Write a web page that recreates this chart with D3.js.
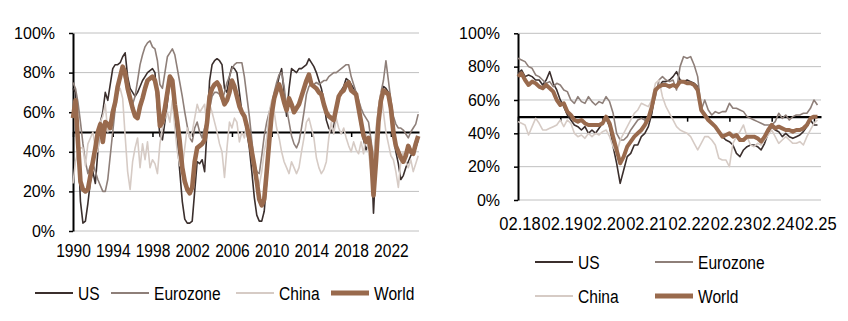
<!DOCTYPE html>
<html>
<head>
<meta charset="utf-8">
<script src="https://cdn.jsdelivr.net/npm/d3@7"></script>
<style>
  html, body { margin: 0; padding: 0; background: #fff; }
  svg { display: block; font-family: "Liberation Sans", Arial, sans-serif; }
</style>
</head>
<body>
<svg id="chart" width="848" height="321"></svg>
<script>
// ---- Data -------------------------------------------------------------
// Share of PMI sub-indices above 50, in percent.

const seriesNames = ["US", "Eurozone", "China", "World"];

// Long history: quarterly observations starting 1990 Q1 (one row per year)
const longStartYear = 1990;
const longUS = [
  72,70,45,15,  4,5,14,25,  30,24,40,55,  60,70,66,74,  82,84,84,85,
  88,90,78,72,  70,68,70,73,  76,78,80,81,  82,80,62,48,  46,55,65,76,
  74,60,45,30,  15,6,4,4,   5,20,35,34,  36,30,52,76,  84,86,87,86,
  84,72,70,78,  83,82,80,70,  60,57,50,42,  30,17,8,5,   5,10,25,45,
  58,66,72,78,  82,70,58,72,  82,81,80,82,  82,83,84,87,  85,83,80,76,
  72,66,56,52,  50,53,60,68,  71,73,77,76,  74,72,70,62,  52,46,41,44,
  42,9,35,55,   68,73,72,70,  60,48,40,34,  26,28,32,35,  38,40,42,46
];
const longEurozone = [
  75,72,65,55,  44,35,29,33,  34,30,26,23,  20,20,26,38,  50,62,73,79,
  81,76,70,66,  64,68,76,84,  89,93,95,96,  93,92,86,74,  72,80,88,90,
  92,89,82,75,  68,60,53,47,  45,52,55,50,  47,52,56,62,  68,70,70,69,
  66,70,75,78,  82,84,85,85,  85,78,68,58,  46,34,30,29,  38,48,55,60,
  64,70,75,79,  80,73,62,55,  48,44,42,45,  52,60,69,73,  74,74,75,74,
  75,76,76,78,  79,80,80,81,  82,83,84,84,  78,74,70,66,  62,59,57,55,
  46,35,48,62,  70,76,86,76,  66,58,54,52,  52,51,49,47,  50,52,54,59
];
const longChina = [
  24,35,40,42,  42,33,44,47,  50,42,40,55,  58,64,50,56,  60,66,70,72,
  67,48,30,21,  35,42,47,32,  44,36,45,32,  36,34,29,44,  52,57,60,55,
  66,52,40,33,  32,42,52,47,  50,57,64,60,  62,64,52,64,  60,55,50,44,
  40,27,42,55,  52,57,55,45,  50,47,55,45,  39,33,27,23,  30,40,47,60,
  66,60,52,47,  40,35,32,29,  35,32,29,32,  40,47,55,57,  52,47,37,32,
  29,31,35,47,  55,49,57,52,  49,52,47,43,  40,45,41,39,  45,39,49,40,
  30,35,52,62,  70,60,50,44,  38,36,30,22,  35,40,35,32,  36,30,34,38
];
const longWorld = [
  57,66,45,25,  21,20,21,28,  35,42,50,54,  45,55,54,52,  60,65,73,78,
  83,80,72,67,  62,58,57,63,  67,72,76,77,  78,76,70,53,  55,62,70,78,
  76,64,55,45,  32,25,21,19,  22,35,42,43,  44,46,55,68,  72,74,75,73,
  68,64,66,70,  76,73,68,63,  60,58,53,47,  40,33,25,16,  13,16,30,45,
  59,67,71,74,  70,65,61,67,  64,60,62,64,  68,72,76,79,  74,73,72,70,
  69,64,60,58,  57,56,62,68,  70,71,74,75,  71,70,69,62,  55,48,45,47,
  40,18,35,55,  66,71,70,69,  62,50,43,40,  37,35,38,43,  40,39,44,48
];
const longTickLabels = ["1990", "1994", "1998", "2002", "2006", "2010", "2014", "2018", "2022"];

// Recent history: monthly observations starting February 2018
const shortUS = [
  76,78,74,75,74,72,72,69,72,77,  70,66,60,56,51,48,45,44,42,44,
  40,42,40,43,46,49,44,32,22,10,  18,26,28,33,33,38,40,44,52,66,
  68,71,71,72,74,77,72,71,72,71,  70,68,54,52,49,46,44,41,38,36,
  35,33,28,26,30,32,33,33,32,30,  34,40,44,42,41,38,40,38,37,38,
  39,41,44,48,45,45
];
const shortEurozone = [
  85,84,83,80,79,75,74,72,70,71,  68,70,69,66,65,60,58,62,59,58,
  62,59,57,59,58,62,59,52,40,36,  36,38,42,45,48,49,48,50,54,62,
  72,74,72,71,72,66,80,86,85,86,  81,74,54,60,54,51,53,52,53,53,
  58,55,55,54,53,50,49,48,47,46,  45,45,45,47,52,49,51,48,50,51,
  51,52,52,55,60,57
];
const shortChina = [
  47,46,45,39,44,49,46,42,42,43,  44,45,48,44,48,46,40,38,39,37,
  40,38,40,39,41,42,38,32,28,36,  40,44,48,52,54,58,57,56,60,70,
  72,62,56,52,48,44,42,41,40,38,  34,30,34,38,38,36,33,25,24,24,
  20,34,38,41,45,38,33,32,34,33,  36,39,42,38,34,36,38,36,34,34,
  35,33,38,42,46,48
];
const shortWorld = [
  74,76,72,69,71,70,68,67,69,67,  65,60,57,58,53,51,48,47,48,46,
  45,45,45,45,46,50,46,38,30,22,  26,32,35,38,40,42,45,49,56,66,
  68,69,69,68,69,68,71,71,70,70,  69,66,54,51,48,46,44,41,38,39,
  40,38,39,36,36,38,38,38,37,35,  38,42,45,43,44,43,42,42,41,42,
  42,43,45,49,50,50
];
const shortTickLabels = ["02.18", "02.19", "02.20", "02.21", "02.22", "02.23", "02.24", "02.25"];

const yTickValues = [0, 20, 40, 60, 80, 100];
const threshold = 50;

// ---- Styles -----------------------------------------------------------
const colors = { US: "#3b2f2d", Eurozone: "#8e7f79", China: "#d6cbc5", World: "#996a4d" };
const widths = { US: 1.6, Eurozone: 1.6, China: 1.6, World: 4.5 };
const gridColor = "#c0c0c0";
const fontFamily = '"Liberation Sans", Arial, sans-serif';
// narrow face for category labels and legend: regular face squeezed horizontally
const narrowSize = 19;
const narrowScale = 0.82;

const svg = d3.select("#chart");

// ---- Panel drawing ----------------------------------------------------
function drawPanel(p) {
  const g = svg.append("g");

  const x = d3.scaleLinear().domain(p.xDomain).range([p.left, p.right]);
  const y = d3.scaleLinear().domain([0, 100]).range([p.bottom, p.top]);

  // horizontal gridlines
  g.append("g").selectAll("line").data(yTickValues).join("line")
    .attr("x1", p.left).attr("x2", p.right)
    .attr("y1", d => y(d)).attr("y2", d => y(d))
    .attr("stroke", gridColor).attr("stroke-width", 1);

  // vertical value axis
  const yAxis = g.append("g")
    .attr("transform", `translate(${p.left},0)`)
    .call(d3.axisLeft(y).tickValues(yTickValues).tickFormat(d => d + "%")
      .tickSizeInner(4).tickSizeOuter(0).tickPadding(14));
  yAxis.select(".domain").attr("stroke", "#000").attr("stroke-width", 2);
  yAxis.selectAll(".tick line").attr("stroke", "#000").attr("stroke-width", 1.5);
  yAxis.selectAll("text").attr("font-size", 16).attr("fill", "#000")
    .attr("font-family", fontFamily);

  // category axis crossing at the 50% threshold
  const xAxis = g.append("g")
    .attr("transform", `translate(0,${y(threshold)})`)
    .call(d3.axisBottom(x).tickValues(p.tickValues).tickFormat((d, i) => p.tickLabels[i])
      .tickSizeInner(5).tickSizeOuter(0).tickPadding(p.labelPad));
  xAxis.select(".domain").attr("stroke", "#000").attr("stroke-width", 2.2);
  xAxis.selectAll(".tick line").attr("stroke", "#000").attr("stroke-width", 1.5);
  xAxis.selectAll("text").attr("font-size", narrowSize).attr("fill", "#000")
    .attr("font-family", fontFamily)
    .attr("transform", `translate(${p.labelShift},0) scale(${p.labelScale},1)`);

  // series
  const line = d3.line()
    .x((d, i) => x(p.xAt(i)))
    .y(d => y(d));
  seriesNames.forEach(name => {
    g.append("path")
      .datum(p.series[name])
      .attr("d", line)
      .attr("fill", "none")
      .attr("stroke", colors[name])
      .attr("stroke-width", name === "World" ? p.worldWidth : widths[name])
      .attr("stroke-linejoin", "round")
      .attr("stroke-linecap", "butt");
  });
}

drawPanel({
  left: 73, right: 419, top: 33, bottom: 231,
  xDomain: [longStartYear, longStartYear + 34.83],
  xAt: i => longStartYear + i / 4,
  tickValues: longTickLabels.map(Number),
  tickLabels: longTickLabels,
  labelPad: 107,
  labelScale: narrowScale,
  labelShift: 0,
  worldWidth: 4.6,
  series: { US: longUS, Eurozone: longEurozone, China: longChina, World: longWorld }
});

drawPanel({
  left: 518, right: 821, top: 33.3, bottom: 200,
  xDomain: [0, 86],
  xAt: i => i,
  tickValues: shortTickLabels.map((d, i) => i * 12),
  tickLabels: shortTickLabels,
  labelPad: 95,
  labelScale: 0.87,
  labelShift: 1.5,
  worldWidth: 4,
  series: { US: shortUS, Eurozone: shortEurozone, China: shortChina, World: shortWorld }
});

// ---- Legends ----------------------------------------------------------
function drawLegend(items) {
  const g = svg.append("g");
  items.forEach(it => {
    g.append("line")
      .attr("x1", it.x).attr("x2", it.x + 38)
      .attr("y1", it.y).attr("y2", it.y)
      .attr("stroke", colors[it.name])
      .attr("stroke-width", it.name === "World" ? 5 : 2);
    g.append("text")
      .attr("transform", `translate(${it.x + 43},${it.y}) scale(${narrowScale},1)`)
      .attr("dy", "0.35em")
      .attr("font-size", narrowSize).attr("fill", "#000")
      .attr("font-family", fontFamily)
      .text(it.name);
  });
}

drawLegend([
  { name: "US", x: 35, y: 293 },
  { name: "Eurozone", x: 111, y: 293 },
  { name: "China", x: 236, y: 293 },
  { name: "World", x: 331, y: 293 }
]);

drawLegend([
  { name: "US", x: 535, y: 262 },
  { name: "Eurozone", x: 655, y: 262 },
  { name: "China", x: 535, y: 296 },
  { name: "World", x: 655, y: 296 }
]);
</script>
</body>
</html>
